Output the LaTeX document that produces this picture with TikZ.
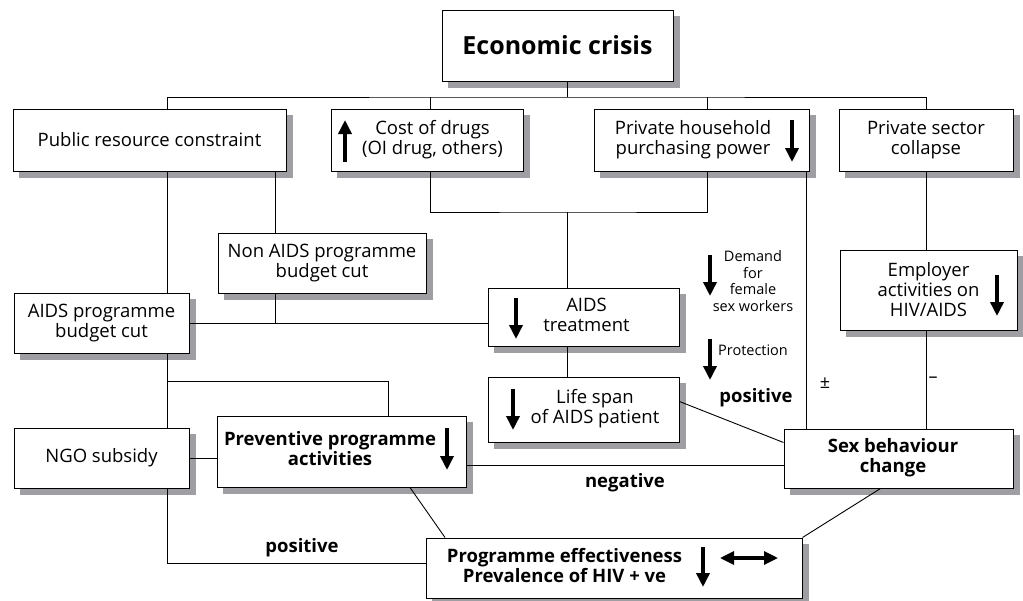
\documentclass[tikz,border=0pt]{standalone}
\usepackage{fontspec}
\setmainfont{Open Sans}
\usetikzlibrary{arrows.meta,positioning}
\definecolor{shadowgray}{RGB}{158,158,163}
\tikzset{
  box/.style={draw, fill=white, line width=1pt, align=center, inner sep=2pt,
    font=\fontsize{18.5}{20}\selectfont},
  bbox/.style={box, font=\fontsize{18.5}{20}\selectfont\bfseries},
  link/.style={line width=0.9pt},
  fall/.style={line width=3.6pt, -{Triangle[width=13pt,length=14pt]}},
  both/.style={line width=3.2pt, {Triangle[width=13pt,length=14pt]}-{Triangle[width=13pt,length=14pt]}},
  note/.style={font=\fontsize{14.5}{16.5}\selectfont, align=center, inner sep=0pt},
  tag/.style={font=\fontsize{18.5}{20}\selectfont\bfseries, inner sep=0pt}
}
\newcommand{\shiftbox}[2]{\hspace*{#1}\begin{tabular}{@{}c@{}}#2\end{tabular}}

\begin{document}
\begin{tikzpicture}[x=1pt,y=-1pt]
    \useasboundingbox (0,0) rectangle (1023,600);
    % boxes
    \node (crisis) [bbox,minimum width=231pt,minimum height=71pt,
      font=\fontsize{25}{28}\selectfont\bfseries] at (557.5,45.5) {Economic crisis};
    \node (pub) [box,minimum width=273pt,minimum height=62pt] at (149.5,140)
    {Public resource constraint};
    \node (cost) [box,minimum width=192pt,minimum height=62pt] at (427,140)
    {\shiftbox{11pt}{Cost of drugs\\(OI drug, others)}};
    \node (hh) [box,minimum width=215pt,minimum height=62pt] at (701.5,140)
    {\shiftbox{-17pt}{Private household\\purchasing power}};
    \node (pse) [box,minimum width=174pt,minimum height=62pt] at (926,140)
    {Private sector\\collapse};
    \node (nonaids) [box,minimum width=208pt,minimum height=60pt] at (322,263)
    {Non AIDS programme\\budget cut};
    \node (aidsprog) [box,minimum width=175pt,minimum height=60pt] at (101.5,323)
    {AIDS programme\\budget cut};
    \node (treat) [box,minimum width=191pt,minimum height=58pt] at (583.5,317)
    {\shiftbox{6pt}{AIDS\\treatment}};
    \node (life) [box,minimum width=191pt,minimum height=65pt] at (583.5,409.5)
    {\shiftbox{23pt}{Life span\\of AIDS patient}};
    \node (employer) [box,minimum width=177pt,minimum height=80pt] at (928.5,290)
    {Employer\\activities on\\HIV/AIDS};
    \node (sex) [bbox,minimum width=229pt,minimum height=59pt] at (898.5,458.5)
    {\shiftbox{-11pt}{Sex behaviour\\change}};
    \node (ngo) [box,minimum width=175pt,minimum height=60pt] at (101.5,458)
    {NGO subsidy};
    \node (prev) [bbox,minimum width=249pt,minimum height=71pt] at (341.5,451.5)
    {\shiftbox{-23pt}{Preventive programme\\activities}};
    \node (eff) [bbox,minimum width=376pt,minimum height=60pt] at (614,568)
    {\shiftbox{-99pt}{Programme effectiveness\\Prevalence of HIV + ve}};
    % grey shadows: an L-shaped strip along the right and lower side of each box
    \foreach \n in {crisis,pub,cost,hh,pse,nonaids,aidsprog,treat,life,employer,sex,ngo,prev,eff}{
      \fill[shadowgray] ([shift={(0.5pt,-6pt)}]\n.north east) rectangle ([shift={(6pt,-6pt)}]\n.south east);
      \fill[shadowgray] ([shift={(6pt,-0.5pt)}]\n.south west) rectangle ([shift={(6pt,-6pt)}]\n.south east);
    }
    % arrows inside the boxes
    \draw[fall] (345,162) -- (345,120);
    \draw[fall] (792,120) -- (792,162);
    \draw[fall] (516,298) -- (516,339);
    \draw[fall] (513,389) -- (513,430);
    \draw[fall] (447,428) -- (447,470);
    \draw[fall] (997,275) -- (997,316);
    \draw[fall] (703,547) -- (703,587);
    \draw[both] (720,558) -- (778,558);
    % side notes
    \draw[fall] (710,255) -- (710,296);
    \node (demand) [note] at (753,281) {Demand\\for\\female\\sex workers};
    \draw[fall] (710,339) -- (710,380);
    \node (protect) [note] at (753,350) {Protection};
    \node (posA) [tag] at (756,398) {positive};
    \node (pm) [note,font=\fontsize{18}{20}\selectfont] at (825,383) {±};
    \node (minus) [note,font=\fontsize{18}{20}\selectfont] at (933,380) {–};
    \node (posB) [tag] at (302,548) {positive};
    % connectors
    \coordinate (bus) at (567,97);
    \coordinate (drug) at (567,212);
    \coordinate (split) at (167,381);
    \draw[link] (bus) -- (bus |- crisis.south);
    \draw[link] ([xshift=17.5pt]pub.north) |- (bus) -| (pse.north);
    \draw[link] ([xshift=3pt]cost.north) -- ++(0,-12);
    \draw[link] ([xshift=5.5pt]hh.north) -- ++(0,-12);
    \draw[link] ([xshift=17.5pt]pub.south) -- ([xshift=17.5pt]pub.south |- aidsprog.north);
    \draw[link] ([xshift=-47pt]nonaids.north) -- ([xshift=-47pt]nonaids.north |- pub.south);
    \draw[link] ([xshift=-47pt]nonaids.south) -- ++(0,30);
    \draw[link] (aidsprog.east) -- (aidsprog.east -| treat.west);
    \draw[link] ([xshift=3pt]cost.south) |- (drug) -| ([xshift=5.5pt]hh.south);
    \draw[link] (drug) -- (drug |- treat.north);
    \draw[link] ([xshift=-16.5pt]treat.south) -- ([xshift=-16.5pt]life.north);
    \draw[link] ([xshift=104.5pt]hh.south) -- ([xshift=104.5pt]hh.south |- sex.north);
    \draw[link] (pse.south) -- (pse.south |- employer.north);
    \draw[link] (pse.south |- employer.south) -- (pse.south |- sex.north);
    \draw[link] ([yshift=8pt]life.east) -- ([yshift=16pt]sex.west);
    \draw[link] ([xshift=65.5pt]aidsprog.south) -- ([xshift=65.5pt]ngo.north);
    \draw[link] (split) -| ([xshift=46.5pt]prev.north);
    \draw[link] (ngo.east) -- (ngo.east -| prev.west);
    \draw[link] ([yshift=-13.5pt]prev.east) -- ([yshift=-13.5pt]prev.east -| sex.west)
      node[tag,pos=0.5,below=8pt] (neg) {negative};
    \draw[link] ([xshift=65.5pt]ngo.south) |- ([yshift=5pt]eff.west);
    \draw[link] ([xshift=68.5pt]prev.south) -- ([xshift=-169pt]eff.north);
    \draw[link] ([xshift=-18pt]sex.south) -- (eff.north east);
\end{tikzpicture}
\end{document}
